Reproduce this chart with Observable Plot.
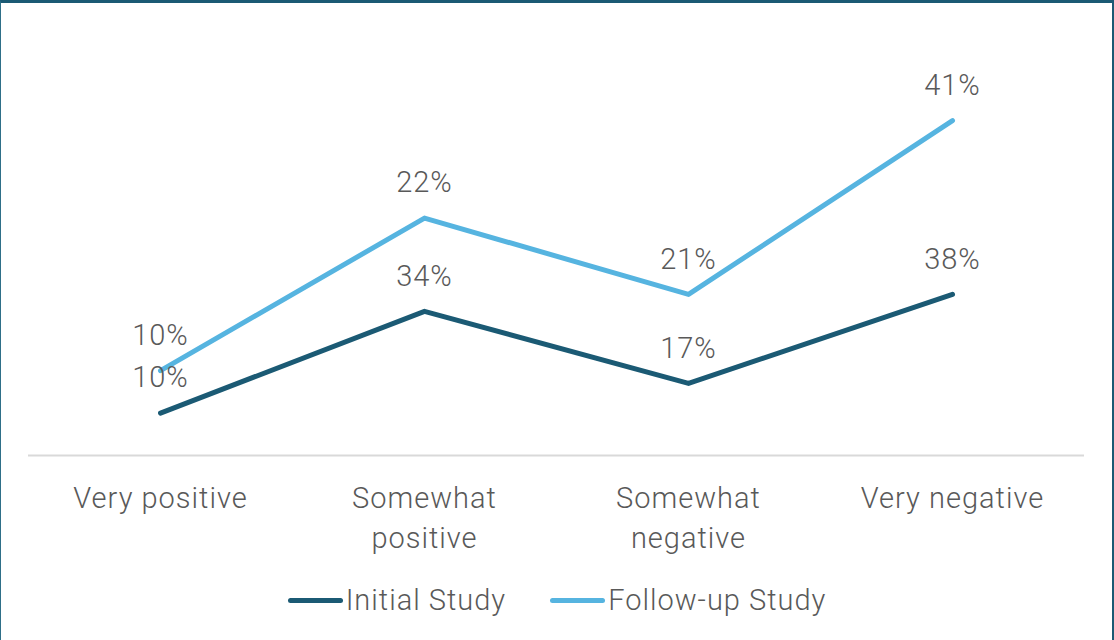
<!DOCTYPE html>
<html>
<head>
<meta charset="utf-8">
<script src="https://cdn.jsdelivr.net/npm/d3@7"></script>
<script src="https://cdn.jsdelivr.net/npm/@observablehq/plot@0.6"></script>
<style>
  html, body { margin: 0; padding: 0; background: #fff; }
  #wrap { position: relative; width: 1114px; height: 640px; overflow: hidden; font-family: Roboto, "Noto Sans", sans-serif; }
  #border { position: absolute; left: 0; top: 0; width: 1114px; height: 640px; box-sizing: border-box;
            border-top: 3px solid #1b5a74; border-left: 1px solid #2e6f88; border-right: 2px solid #1b5a74; pointer-events: none; }
  #legend { position: absolute; left: 0; top: 582px; width: 1114px; display: flex; justify-content: center; align-items: center;
            font-size: 29px; font-weight: 300; letter-spacing: 1px; color: #595959; line-height: 36px; }
  .item { display: flex; align-items: center; margin: 0 22px; }
  .sw { width: 55px; height: 5px; border-radius: 3px; margin-right: 3px; }
  svg text { font-weight: 300; letter-spacing: 1px; }
</style>
</head>
<body>
<div id="wrap"><div id="chart"></div><div id="legend"></div><div id="border"></div></div>
<script>
const categories = ["Very positive", "Somewhat positive", "Somewhat negative", "Very negative"];
const categoryLabels = ["Very positive", "Somewhat\npositive", "Somewhat\nnegative", "Very negative"];
const seriesNames = ["Initial Study", "Follow-up Study"];
const initialStudy = [10, 34, 17, 38];
const followUpStudy = [10, 22, 21, 41];
const colors = ["#1b5a74", "#56b4e0"];

const data = [];
seriesNames.forEach((s, si) => {
  const vals = si === 0 ? initialStudy : followUpStudy;
  categories.forEach((c, i) => data.push({category: c, series: s, value: vals[i]}));
});
const labelMap = new Map(categories.map((c, i) => [c, categoryLabels[i]]));

const chart = Plot.plot({
  width: 1114,
  height: 575,
  marginLeft: 28,
  marginRight: 30,
  marginTop: 31,
  marginBottom: 120,
  style: {fontFamily: "Roboto, 'Noto Sans', sans-serif", background: "transparent"},
  x: {type: "point", domain: categories, padding: 0.5, axis: null},
  y: {domain: [0, 100], axis: null},
  color: {domain: seriesNames, range: colors},
  marks: [
    Plot.ruleY([0], {stroke: "#d9d9d9", strokeWidth: 2}),
    Plot.lineY(data, Plot.stackY2({x: "category", y: "value", z: "series", stroke: "series", strokeWidth: 5, strokeLinecap: "round", strokeLinejoin: "round"})),
    Plot.text(data, Plot.stackY2({x: "category", y: "value", z: "series", text: d => d.value + "%", dy: -35, fontSize: 29, fill: "#595959"})),
    Plot.text(categories, {x: d => d, y: () => 0, text: d => labelMap.get(d), lineAnchor: "top", dy: 24, fontSize: 29, lineHeight: 1.38, fill: "#595959"})
  ]
});
document.getElementById("chart").appendChild(chart);

const legend = document.getElementById("legend");
seriesNames.forEach((s, i) => {
  const it = document.createElement("div");
  it.className = "item";
  const sw = document.createElement("div");
  sw.className = "sw";
  sw.style.background = colors[i];
  const t = document.createElement("span");
  t.textContent = s;
  it.appendChild(sw); it.appendChild(t);
  legend.appendChild(it);
});
</script>
</body>
</html>
